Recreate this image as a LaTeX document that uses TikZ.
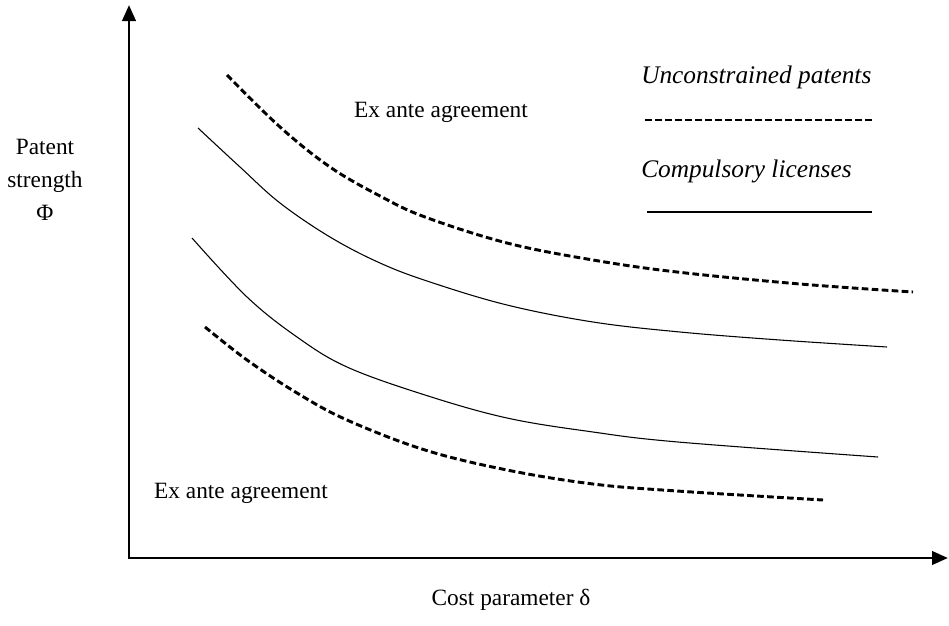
\documentclass[tikz,border=0pt]{standalone}
\usepackage{fontspec}
\setmainfont{Liberation Serif}
\usetikzlibrary{arrows.meta}
\begin{document}
\begin{tikzpicture}
[x=0.75pt,y=-0.75pt,
  axisDecorate/.style={line width=2.2pt,{Triangle[width=10pt,length=12pt]}-{Triangle[width=10pt,length=12pt]}},
  dashDecorate/.style={line width=2.2pt,dash pattern=on 5pt off 2.5pt},
  solidDecorate/.style={line width=0.8pt},
  textDecorate/.style={font=\fontsize{17.5}{25}\selectfont,inner sep=0pt,align=center},
  legendDecorate/.style={font=\fontsize{19}{22}\selectfont\itshape,inner sep=0pt,anchor=west}]
\useasboundingbox (0,0) rectangle (949,625);
%% axes
\coordinate (ytip) at (129,5);
\coordinate (origin) at (129,558);
\coordinate (xtip) at (948,558);
\draw[axisDecorate] (ytip) -- (origin) -- (xtip);
%% labels
\foreach \nodename/\x/\y/\txt in {upperEx/441/112/Ex ante agreement,
  lowerEx/241/493/Ex ante agreement, costLabel/511/600/Cost parameter δ} {
  \node (\nodename) at (\x,\y) [textDecorate] {\txt};
}
\node (strengthLabel) at (45,180) [textDecorate] {Patent\\strength\\Φ};
%% legend
\node (unconLabel) at (641,77) [legendDecorate] {Unconstrained patents};
\node (compLabel) at (641,171) [legendDecorate] {Compulsory licenses};
\coordinate (dashStart) at (645,120);
\coordinate (dashEnd) at (873,120);
\coordinate (solidStart) at (647,212);
\coordinate (solidEnd) at (872,212);
\draw[dashDecorate] (dashStart) -- (dashEnd);
\draw[solidDecorate] (solidStart) -- (solidEnd);
%% curves
\draw[dashDecorate] plot[smooth,tension=0.6] coordinates {(227,75) (280,127) (330,167)
  (380,196) (425,217) (507,243) (593,260) (677,272) (800,284) (913,292)};
\draw[solidDecorate] plot[smooth,tension=0.6] coordinates {(198,128) (240,167) (280,203)
  (330,237) (380,263) (430,282) (507,305) (593,322) (680,332) (780,340) (887,347)};
\draw[solidDecorate] plot[smooth,tension=0.6] coordinates {(192,238) (247,297) (297,337)
  (347,367) (425,395) (507,418) (593,432) (678,442) (878,457)};
\draw[dashDecorate] plot[smooth,tension=0.6] coordinates {(205,327) (247,360) (297,393)
  (347,420) (425,450) (507,470) (593,484) (677,491) (823,500)};
\end{tikzpicture}
\end{document}
